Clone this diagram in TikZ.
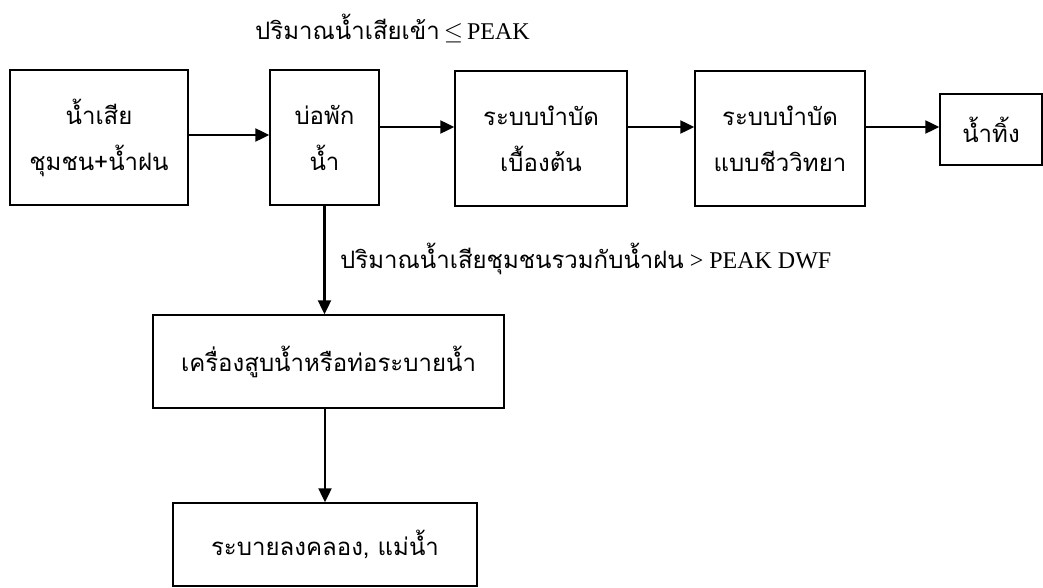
\documentclass[tikz,border=0pt]{standalone}
\usepackage{fontspec}
\setmainfont{Liberation Serif}
\newfontfamily\thai[Script=Thai]{Loma}
\usetikzlibrary{arrows.meta}
\newcommand\thaibox{\thai\fontsize{24}{46}\selectfont}
\begin{document}
\begin{tikzpicture}[x=1pt,y=-1pt,
  box/.style={draw, line width=1.4pt, inner sep=0pt, align=center, font=\thaibox},
  arr/.style={line width=2.2pt, -{Triangle[length=14pt,width=13pt]}},
  lbl/.style={inner sep=0pt, anchor=base west, font=\fontsize{24}{29}\selectfont}]
\useasboundingbox (0,0) rectangle (1043,588);
\node[box, minimum width=178pt, minimum height=135pt] (b1) at (99,137.5) {น้ำเสีย\\ชุมชน+น้ำฝน};
\node[box, minimum width=109pt, minimum height=135pt] (b2) at (324.5,137.5) {บ่อพัก\\น้ำ};
\node[box, minimum width=172pt, minimum height=135pt] (b3) at (541,138.5) {ระบบบำบัด\\เบื้องต้น};
\node[box, minimum width=170pt, minimum height=135pt] (b4) at (780,138.5) {ระบบบำบัด\\แบบชีววิทยา};
\node[box, minimum width=102pt, minimum height=71pt] (b5) at (991,129.5) {น้ำทิ้ง};
\node[box, minimum width=351pt, minimum height=93pt] (b6) at (328.5,361.5) {เครื่องสูบน้ำหรือท่อระบายน้ำ};
\node[box, minimum width=304pt, minimum height=83pt] (b7) at (325,544.5) {ระบายลงคลอง, แม่น้ำ};
\node[lbl] (t1) at (255,40) {{\thai ปริมาณน้ำเสียเข้า}\,$\leq$\,PEAK};
\node[lbl] (t2) at (340,268) {{\thai ปริมาณน้ำเสียชุมชนรวมกับน้ำฝน} > PEAK DWF};
\draw[arr] ([yshift=2.5pt]b1.east) -- ([yshift=2.5pt]b1.east -| b2.west);
\draw[arr] ([yshift=10.5pt]b2.east) -- ([yshift=10.5pt]b2.east -| b3.west);
\draw[arr] ([yshift=11.5pt]b3.east) -- ([yshift=11.5pt]b3.east -| b4.west);
\draw[arr] ([yshift=11.5pt]b4.east) -- ([yshift=11.5pt]b4.east -| b5.west);
\draw[arr] (b2.south) -- (b2.south |- b6.north);
\draw[arr] (b7.north |- b6.south) -- (b7.north);
\end{tikzpicture}
\end{document}
